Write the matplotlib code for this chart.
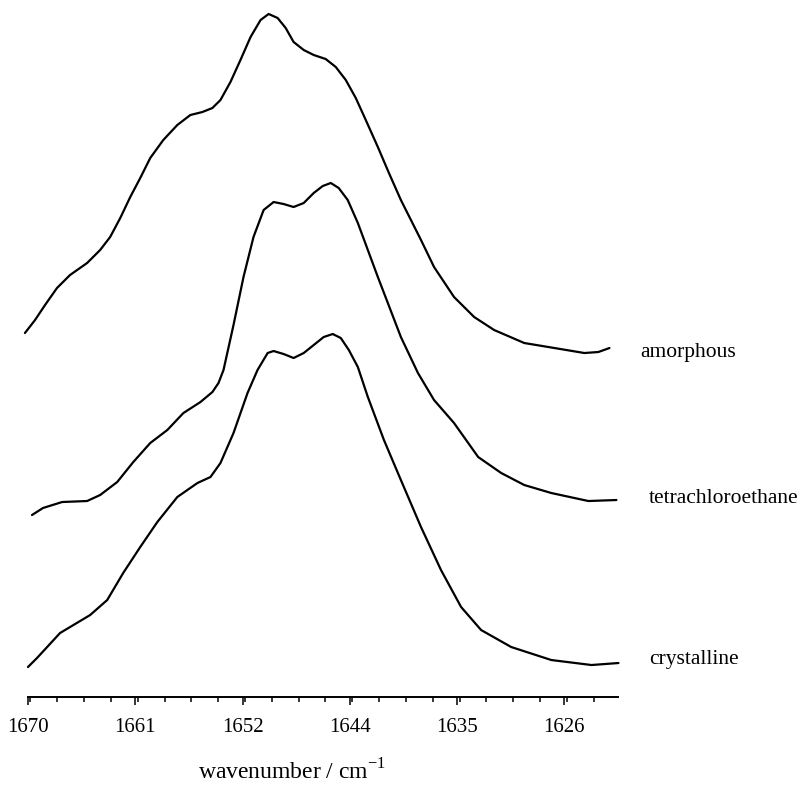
import numpy as np
import matplotlib.pyplot as plt
from matplotlib.ticker import FixedLocator, MultipleLocator

plt.rcParams['font.family'] = ['Liberation Serif', 'DejaVu Serif']
plt.rcParams['mathtext.fontset'] = 'custom'
plt.rcParams['mathtext.rm'] = 'Liberation Serif'

# wavenumber (cm-1) and offset absorbance (arb. units)
amorphous_wn = [1670.25, 1669.42, 1668.60, 1667.62, 1666.55, 1665.15, 1664.08, 1663.26,
                1662.43, 1661.61, 1660.79, 1659.97, 1658.90, 1657.75, 1656.68, 1655.69,
                1654.87, 1654.21, 1653.39, 1652.57, 1651.74, 1650.92, 1650.26, 1649.52,
                1648.86, 1648.21, 1647.38, 1646.56, 1645.58, 1644.75, 1643.93, 1643.11,
                1642.29, 1641.30, 1640.39, 1639.41, 1637.76, 1636.69, 1635.05, 1633.40,
                1631.76, 1629.29, 1626.82, 1624.36, 1623.21, 1622.30]
amorphous_abs = [3.64, 3.77, 3.92, 4.09, 4.22, 4.34, 4.47, 4.60,
                 4.79, 5.00, 5.19, 5.39, 5.57, 5.72, 5.82, 5.85,
                 5.89, 5.97, 6.15, 6.37, 6.60, 6.77, 6.83, 6.79,
                 6.69, 6.55, 6.47, 6.42, 6.38, 6.30, 6.17, 5.99,
                 5.77, 5.50, 5.24, 4.97, 4.57, 4.30, 4.00, 3.80,
                 3.67, 3.54, 3.49, 3.44, 3.45, 3.49]

tetra_wn = [1669.67, 1668.77, 1667.20, 1665.15, 1664.08, 1662.68, 1661.36, 1659.97,
            1658.57, 1657.25, 1655.85, 1654.87, 1654.37, 1653.96, 1653.14, 1652.32,
            1651.50, 1650.67, 1649.85, 1649.03, 1648.21, 1647.38, 1646.56, 1645.82,
            1645.16, 1644.51, 1643.77, 1642.94, 1642.12, 1641.30, 1640.48, 1639.41,
            1638.01, 1636.69, 1635.05, 1633.07, 1631.18, 1629.29, 1627.07, 1624.03,
            1621.73]
tetra_abs = [1.82, 1.89, 1.95, 1.96, 2.02, 2.15, 2.35, 2.54,
             2.67, 2.84, 2.95, 3.05, 3.14, 3.27, 3.72, 4.20,
             4.60, 4.87, 4.95, 4.93, 4.90, 4.94, 5.04, 5.11,
             5.14, 5.09, 4.97, 4.74, 4.47, 4.20, 3.94, 3.60,
             3.24, 2.97, 2.74, 2.40, 2.24, 2.12, 2.04, 1.96,
             1.97]

cryst_wn = [1670.00, 1669.26, 1667.37, 1664.90, 1663.50, 1662.19, 1660.79, 1659.39,
            1657.75, 1656.10, 1655.03, 1654.21, 1653.14, 1651.99, 1651.17, 1650.34,
            1649.85, 1649.03, 1648.21, 1647.38, 1646.56, 1645.74, 1645.00, 1644.34,
            1643.68, 1642.94, 1642.12, 1640.80, 1639.41, 1637.76, 1636.12, 1634.47,
            1632.83, 1630.36, 1627.07, 1623.78, 1621.56]
cryst_abs = [0.30, 0.39, 0.64, 0.82, 0.97, 1.24, 1.50, 1.75,
             2.00, 2.14, 2.20, 2.34, 2.64, 3.04, 3.27, 3.44,
             3.46, 3.43, 3.39, 3.44, 3.52, 3.60, 3.63, 3.59,
             3.47, 3.30, 3.00, 2.57, 2.17, 1.70, 1.27, 0.90,
             0.67, 0.50, 0.37, 0.32, 0.34]

tick_pos = [1670, 1661.2, 1652.4, 1643.6, 1634.8, 1626]
tick_labels = ["1670", "1661", "1652", "1644", "1635", "1626"]


def main():
    fig = plt.figure(figsize=(7.97, 7.86), dpi=100)
    ax = fig.add_axes([0.0351, 0.1132, 0.7403, 0.8868])

    for wn, ab in [(amorphous_wn, amorphous_abs), (tetra_wn, tetra_abs), (cryst_wn, cryst_abs)]:
        ax.plot(wn, ab, color="black", lw=1.6, clip_on=False,
                solid_capstyle="round", solid_joinstyle="round")

    ax.set_xlim(1670, 1621.6)
    ax.set_ylim(0, 6.97)

    for s in ["top", "left", "right"]:
        ax.spines[s].set_visible(False)
    ax.spines["bottom"].set_linewidth(1.4)
    ax.set_yticks([])

    ax.xaxis.set_major_locator(FixedLocator(tick_pos))
    ax.set_xticklabels(tick_labels)
    ax.xaxis.set_minor_locator(MultipleLocator(2.2))
    ax.tick_params(axis="x", which="major", direction="out", length=6, width=1.1,
                   labelsize=15, pad=9)
    ax.tick_params(axis="x", which="minor", direction="out", length=3.6, width=1.1)

    # curve labels
    ax.text(1619.75, 3.45, "amorphous", fontsize=15.5, va="center", ha="left", clip_on=False)
    ax.text(1619.09, 1.99, "tetrachloroethane", fontsize=15.5, va="center", ha="left", clip_on=False)
    ax.text(1619.01, 0.38, "crystalline", fontsize=15.5, va="center", ha="left", clip_on=False)

    fig.text(292 / 797, 1 - 779 / 786, r"wavenumber / cm$^{\mathrm{-1}}$",
             fontsize=17, ha="center", va="baseline")

    fig.savefig("out.png", dpi=100)
    plt.close(fig)


if __name__ == "__main__":
    main()
